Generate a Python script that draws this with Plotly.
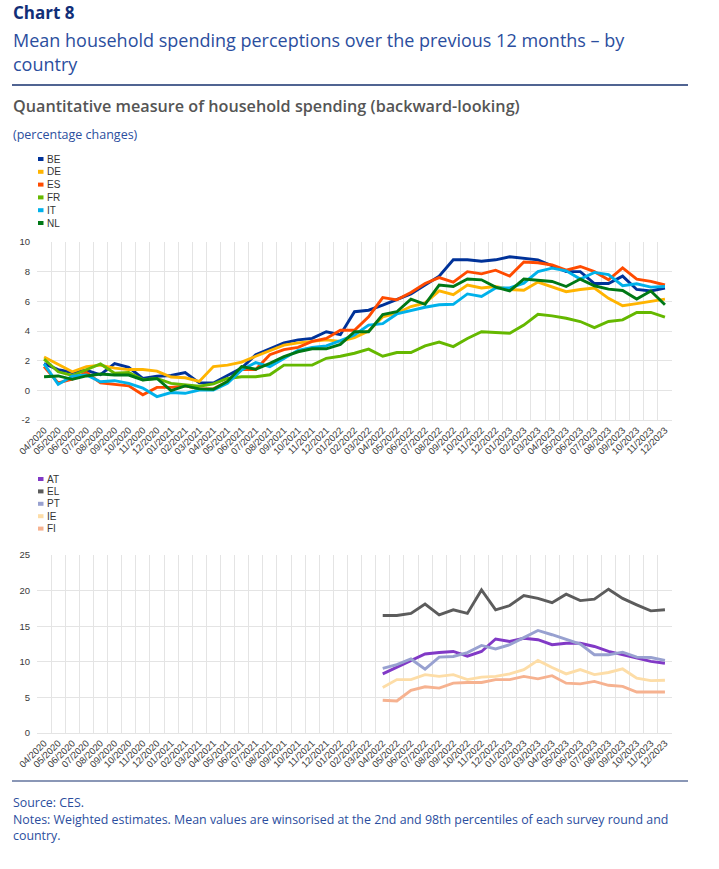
import plotly.graph_objects as go

months = ["04/2020", "05/2020", "06/2020", "07/2020", "08/2020", "09/2020", "10/2020", "11/2020", "12/2020",
          "01/2021", "02/2021", "03/2021", "04/2021", "05/2021", "06/2021", "07/2021", "08/2021", "09/2021",
          "10/2021", "11/2021", "12/2021", "01/2022", "02/2022", "03/2022", "04/2022", "05/2022", "06/2022",
          "07/2022", "08/2022", "09/2022", "10/2022", "11/2022", "12/2022", "01/2023", "02/2023", "03/2023",
          "04/2023", "05/2023", "06/2023", "07/2023", "08/2023", "09/2023", "10/2023", "11/2023", "12/2023"]

months_lower = ["04/2022", "05/2022", "06/2022", "07/2022", "08/2022", "09/2022", "10/2022", "11/2022",
                "12/2022", "01/2023", "02/2023", "03/2023", "04/2023", "05/2023", "06/2023", "07/2023",
                "08/2023", "09/2023", "10/2023", "11/2023", "12/2023"]

top_yticks = [-2, 0, 2, 4, 6, 8, 10]
top_ylabels = ["-2", "0", "2", "4", "6", "8", "10"]
low_yticks = [0, 5, 10, 15, 20, 25]
low_ylabels = ["0", "5", "10", "15", "20", "25"]

BE = [1.8, 1.4, 1.2, 1.35, 1.05, 1.8, 1.55, 0.8, 0.95, 1.0, 1.2, 0.5, 0.5, 1.0, 1.5, 2.4, 2.8, 3.2, 3.4, 3.5,
      3.95, 3.75, 5.3, 5.4, 5.75, 6.1, 6.5, 7.1, 7.7, 8.8, 8.8, 8.7, 8.8, 9.0, 8.9, 8.8, 8.4, 8.0, 8.0, 7.2,
      7.2, 7.7, 6.8, 6.7, 6.9]
DE = [2.25, 1.75, 1.25, 1.6, 1.7, 1.5, 1.4, 1.4, 1.3, 0.9, 0.85, 0.6, 1.6, 1.7, 1.9, 2.3, 2.7, 3.05, 3.2, 3.3,
      3.4, 3.3, 3.55, 4.0, 4.95, 5.2, 5.65, 5.9, 6.7, 6.45, 7.1, 6.9, 7.0, 6.8, 6.75, 7.3, 6.95, 6.65, 6.8, 6.9,
      6.2, 5.7, 5.85, 6.0, 6.15]
ES = [1.6, 0.5, 0.75, 1.2, 0.5, 0.4, 0.3, -0.3, 0.2, 0.2, 0.3, 0.1, 0.1, 0.6, 1.4, 1.4, 2.4, 2.75, 2.9, 3.3,
      3.5, 4.05, 4.05, 4.95, 6.25, 6.1, 6.6, 7.2, 7.6, 7.3, 8.0, 7.85, 8.1, 7.7, 8.65, 8.6, 8.45, 8.1, 8.35, 8.0,
      7.45, 8.25, 7.5, 7.35, 7.1]
FR = [2.1, 1.25, 1.0, 1.4, 1.78, 1.15, 1.2, 0.72, 0.8, 0.47, 0.4, 0.28, 0.43, 0.8, 0.92, 0.92, 1.05, 1.7, 1.7,
      1.7, 2.16, 2.3, 2.5, 2.78, 2.3, 2.55, 2.55, 3.0, 3.25, 2.95, 3.5, 3.95, 3.9, 3.85, 4.4, 5.13, 5.02, 4.86,
      4.64, 4.23, 4.64, 4.75, 5.25, 5.25, 4.93]
IT = [1.78, 0.4, 0.95, 1.03, 0.58, 0.65, 0.47, 0.15, -0.42, -0.15, -0.2, 0.02, 0.02, 0.47, 1.37, 1.87, 1.6,
      2.16, 2.7, 2.9, 3.0, 3.35, 3.73, 4.4, 4.5, 5.15, 5.4, 5.6, 5.77, 5.8, 6.5, 6.33, 6.9, 6.9, 7.23, 8.0, 8.24,
      8.06, 7.5, 7.95, 7.8, 7.05, 7.18, 6.96, 7.0]
NL = [0.92, 0.97, 0.74, 0.97, 1.1, 1.03, 1.03, 0.7, 0.8, -0.02, 0.3, 0.1, 0.07, 0.6, 1.6, 1.42, 1.82, 2.27,
      2.6, 2.8, 2.8, 3.1, 3.95, 3.95, 5.1, 5.3, 6.15, 5.8, 7.1, 7.0, 7.5, 7.45, 6.96, 6.7, 7.5, 7.4, 7.34, 7.0,
      7.5, 7.05, 6.82, 6.73, 6.15, 6.7, 5.77]

AT = [8.3, 9.2, 10.2, 11.1, 11.3, 11.45, 10.8, 11.45, 13.2, 12.85, 13.3, 13.1, 12.4, 12.6, 12.6, 12.15, 11.45,
      11.0, 10.5, 10.05, 9.8]
EL = [16.5, 16.5, 16.8, 18.1, 16.6, 17.3, 16.8, 20.1, 17.3, 17.9, 19.3, 18.9, 18.3, 19.5, 18.6, 18.8, 20.2,
      18.9, 18.0, 17.15, 17.3]
PT = [9.07, 9.6, 10.4, 8.97, 10.65, 10.75, 11.3, 12.3, 11.8, 12.4, 13.4, 14.4, 13.8, 13.1, 12.5, 11.0, 11.0,
      11.35, 10.65, 10.6, 10.2]
IE = [6.4, 7.5, 7.5, 8.2, 7.95, 8.2, 7.5, 7.85, 7.95, 8.3, 8.9, 10.2, 9.2, 8.3, 8.9, 8.2, 8.5, 9.0, 7.7, 7.35,
      7.4]
FI = [4.6, 4.5, 6.0, 6.5, 6.3, 7.0, 7.1, 7.1, 7.5, 7.5, 7.95, 7.6, 8.05, 7.0, 6.9, 7.25, 6.7, 6.55, 5.75, 5.75,
      5.75]

top_names = ["BE", "DE", "ES", "FR", "IT", "NL"]
top_series = [BE, DE, ES, FR, IT, NL]
top_colors = ["#003299", "#FFB400", "#FF4B00", "#65B800", "#00B1EA", "#007816"]

low_names = ["AT", "EL", "PT", "IE", "FI"]
low_series = [AT, EL, PT, IE, FI]
low_colors = ["#8139C6", "#5C5C5C", "#98A1D0", "#FDDDA7", "#F6B290"]

W, H = 719, 869


def px(x):
    return x / W


def py(y):
    return 1 - y / H


fig = go.Figure()

for name, vals, col in zip(top_names, top_series, top_colors):
    fig.add_trace(go.Scatter(x=months, y=vals, name=name, mode="lines",
                             line=dict(color=col, width=2.9), xaxis="x", yaxis="y",
                             showlegend=False))

for name, vals, col in zip(low_names, low_series, low_colors):
    fig.add_trace(go.Scatter(x=months_lower, y=vals, name=name, mode="lines",
                             line=dict(color=col, width=2.9), xaxis="x2", yaxis="y2",
                             showlegend=False))

tick_font = dict(family="Liberation Sans, Arial, sans-serif", size=9.5, color="#3a3a3a")
grid_col = "#e4e4e4"

xcommon = dict(type="category", categoryorder="array", categoryarray=months,
               tickmode="array", tickvals=months, ticktext=months,
               tickangle=-45, tickfont=tick_font, showgrid=True, gridcolor=grid_col,
               gridwidth=1, tickson="boundaries", ticks="", showline=True, linecolor=grid_col,
               zeroline=False, fixedrange=True, automargin=False)

ycommon = dict(tickfont=tick_font, showgrid=True, gridcolor=grid_col, zeroline=False, tickmode="array",
               ticks="", ticklabelstandoff=6, showline=False, fixedrange=True, automargin=False)

fig.update_layout(
    width=W, height=H,
    margin=dict(l=0, r=0, t=0, b=0, pad=0),
    paper_bgcolor="white", plot_bgcolor="white",
    showlegend=False,
    xaxis=dict(domain=[px(37), px(672)], anchor="y", range=[-0.5, 44.5], **xcommon),
    yaxis=dict(domain=[py(420), py(242)], anchor="x", range=[-2, 10],
               tickvals=top_yticks, ticktext=top_ylabels, **ycommon),
    xaxis2=dict(domain=[px(37), px(672)], anchor="y2", range=[-0.5, 44.5], **xcommon),
    yaxis2=dict(domain=[py(733), py(555)], anchor="x2", range=[0, 25],
                tickvals=low_yticks, ticktext=low_ylabels, **ycommon),
)

head_font = "Open Sans, Noto Sans, sans-serif"
blue_text = "#2b4e9e"
annotations = []
shapes = []


def add_text(text, x, y, size, color, weight="normal"):
    annotations.append(dict(text=text, x=px(x), y=py(y), xref="paper", yref="paper",
                            xanchor="left", yanchor="middle", showarrow=False,
                            font=dict(family=head_font, size=size, color=color, weight=weight)))


add_text("Chart 8", 11, 13, 17, "#112f78", "bold")
add_text("Mean household spending perceptions over the previous 12 months \u2013 by", 11, 40, 18, blue_text)
add_text("country", 11, 64, 18, blue_text)
add_text("Quantitative measure of household spending (backward-looking)", 11, 106, 16.2, "#555555", 600)
add_text("(percentage changes)", 11, 134, 12.5, blue_text)
add_text("Source: CES.", 11, 802, 12.4, blue_text)
add_text("Notes: Weighted estimates. Mean values are winsorised at the 2nd and 98th percentiles of each survey round and",
         11, 819, 12.4, blue_text)
add_text("country.", 11, 835, 12.4, blue_text)

shapes.append(dict(type="line", xref="paper", yref="paper", x0=px(12), x1=px(688), y0=py(85), y1=py(85),
                   line=dict(color="#16306e", width=1.5)))
shapes.append(dict(type="line", xref="paper", yref="paper", x0=px(12), x1=px(688), y0=py(781), y1=py(781),
                   line=dict(color="#16306e", width=1.2)))

# legends (compact, as in the reference)
leg_font = dict(family="Liberation Sans, Arial, sans-serif", size=10, color="#333333")


def add_legend(names, colors, y0, step):
    for k, (n, c) in enumerate(zip(names, colors)):
        yc = y0 + k * step
        shapes.append(dict(type="rect", xref="paper", yref="paper", x0=px(38), x1=px(43.5),
                           y0=py(yc + 2), y1=py(yc - 2), fillcolor=c, line=dict(width=0)))
        annotations.append(dict(text=n, x=px(45.5), y=py(yc), xref="paper", yref="paper",
                                xanchor="left", yanchor="middle", showarrow=False, font=leg_font))


add_legend(top_names, top_colors, 159, 12.8)
add_legend(low_names, low_colors, 479, 12.4)

fig.update_layout(annotations=annotations, shapes=shapes)

fig.write_html("out.html", config={"displayModeBar": False},
               post_script="document.body.style.margin='0';document.body.style.overflow='hidden';")
